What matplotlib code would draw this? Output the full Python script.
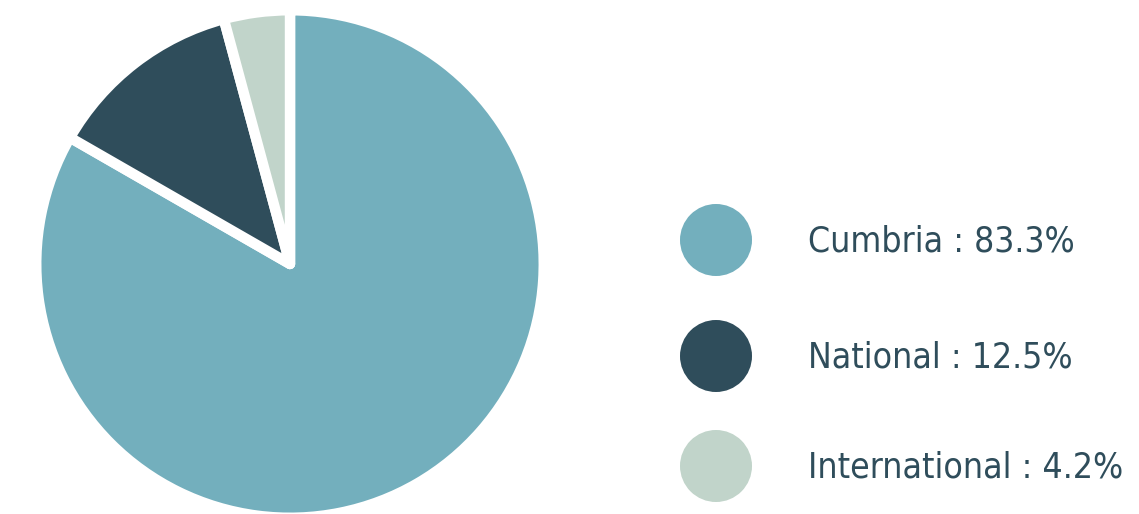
import matplotlib.pyplot as plt
from matplotlib.patches import Circle

labels = ['Cumbria', 'National', 'International']
shares = [83.3, 12.5, 4.2]
colors = ['#73afbd', '#2f4d5b', '#c1d4ca']
text_color = '#2f4d5b'

W, H = 1139, 514
fig = plt.figure(figsize=(W / 100, H / 100), dpi=100)

# pie, clockwise from 12 o'clock
ax = fig.add_axes([40 / W, 0, 500 / W, 500 / H])
ax.pie(shares, colors=colors, startangle=90, counterclock=False, radius=1.015,
       wedgeprops=dict(edgecolor='white', linewidth=7.5, joinstyle='round'))
ax.set_xlim(-1, 1)
ax.set_ylim(-1, 1)
ax.set_aspect('equal')
ax.axis('off')

# legend drawn in pixel coordinates
leg = fig.add_axes([0, 0, 1, 1])
leg.set_xlim(0, W)
leg.set_ylim(H, 0)
leg.axis('off')
rows_y = [240, 356, 466]
for lab, val, col, y in zip(labels, shares, colors, rows_y):
    leg.add_patch(Circle((716, y), 36, color=col, lw=0))
    leg.text(808, y + 1, f'{lab} : {val}%', va='center', ha='left', fontsize=25.5,
             color=text_color, family=['DejaVu Sans'], fontstretch='condensed')

fig.savefig('out.png', dpi=100)
